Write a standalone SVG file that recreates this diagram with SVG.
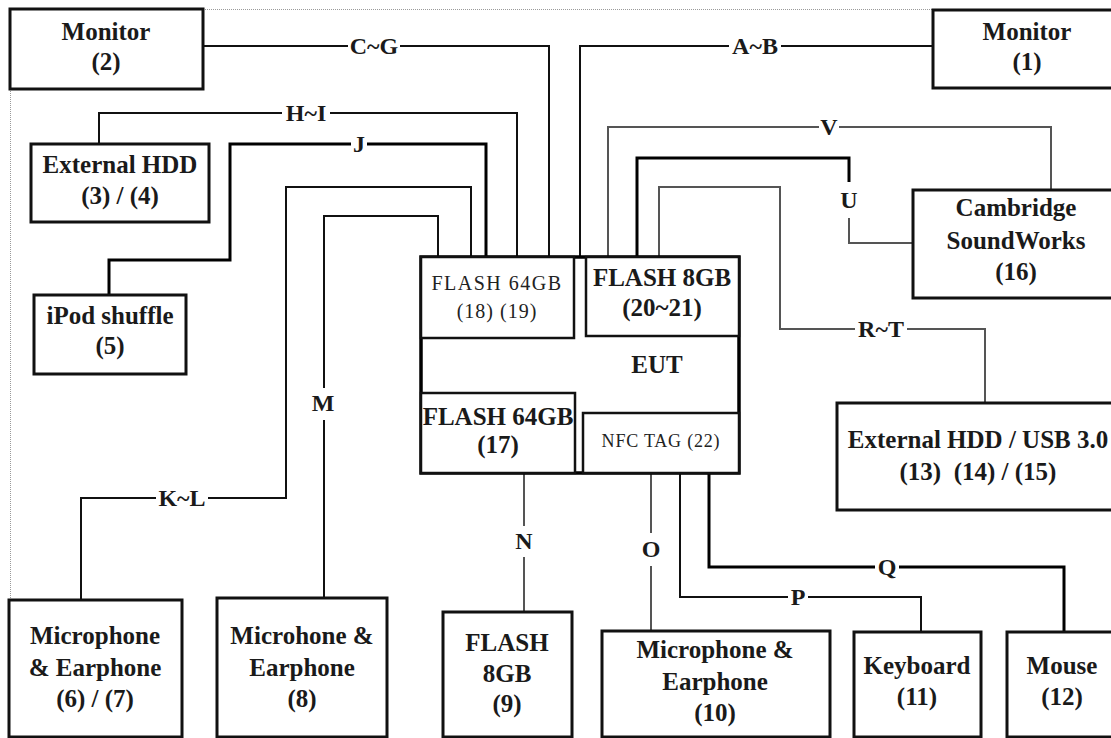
<svg xmlns="http://www.w3.org/2000/svg" width="1111" height="738" viewBox="0 0 1111 738">
<style>
.bx{fill:#fff;stroke:#111;stroke-width:3}
.in{fill:#fff;stroke:#111;stroke-width:2.5}
.t{font-family:"Liberation Serif","Times New Roman",serif;font-weight:bold;font-size:25px;fill:#1a1a1a;text-anchor:middle}
.tr{font-family:"Liberation Serif","Times New Roman",serif;font-weight:normal;fill:#222;text-anchor:middle}
.c{fill:none;stroke:#111;stroke-width:2}
.g{fill:none;stroke:#555;stroke-width:2}
.k{fill:none;stroke:#000;stroke-width:3}
.gap{fill:#fff;stroke:none}
.lb{font-family:"Liberation Serif","Times New Roman",serif;font-weight:bold;font-size:24px;fill:#1a1a1a;text-anchor:middle}
.dot{fill:none;stroke:#9a9a9a;stroke-width:1;stroke-dasharray:1 1}
</style>
<rect width="1111" height="738" fill="#fff"/>
<g id="frame">
<path class="dot" d="M203 9.5H933M10.5 89V600"/>
</g>
<g id="connectors">
<path class="c" d="M203 46H549V257"/>
<path class="c" d="M933 46H580V257"/>
<path class="c" d="M99 144V113H517V257"/>
<path class="k" d="M109 295V260H230V144H486V257"/>
<path class="c" d="M81 600V498H286V187H471V257"/>
<path class="c" d="M324 598V216H438V257"/>
<path class="g" d="M608 257V127H1051V190"/>
<path class="k" d="M637 257V158H849V200"/>
<path class="g" d="M849 200V243H913"/>
<path class="g" d="M659 257V187H780V329H985V403"/>
<path class="g" d="M524 473V612"/>
<path class="g" d="M651 473V631"/>
<path class="c" d="M680 473V597H921V632"/>
<path class="k" d="M709 473V567H1064V632"/>
<rect class="gap" x="348" y="34" width="52" height="24"/>
<rect class="gap" x="729" y="34" width="52" height="24"/>
<rect class="gap" x="282" y="101" width="48" height="24"/>
<rect class="gap" x="351" y="132" width="16" height="24"/>
<rect class="gap" x="819" y="115" width="20" height="24"/>
<rect class="gap" x="839" y="182" width="20" height="36"/>
<rect class="gap" x="855" y="317" width="52" height="24"/>
<rect class="gap" x="156" y="486" width="52" height="24"/>
<rect class="gap" x="311" y="388" width="24" height="32"/>
<rect class="gap" x="514" y="526" width="20" height="31"/>
<rect class="gap" x="641" y="533" width="20" height="33"/>
<rect class="gap" x="788" y="585" width="20" height="24"/>
<rect class="gap" x="875" y="555" width="24" height="24"/>
<text class="lb" x="374" y="54">C~G</text>
<text class="lb" x="755" y="54">A~B</text>
<text class="lb" x="306" y="121">H~I</text>
<text class="lb" x="359" y="152">J</text>
<text class="lb" x="829" y="135">V</text>
<text class="lb" x="849" y="208">U</text>
<text class="lb" x="881" y="337">R~T</text>
<text class="lb" x="182" y="506">K~L</text>
<text class="lb" x="323" y="411">M</text>
<text class="lb" x="524" y="549">N</text>
<text class="lb" x="651" y="557">O</text>
<text class="lb" x="798" y="605">P</text>
<text class="lb" x="887" y="575">Q</text>
</g>
<g id="monitor2">
<rect class="bx" x="10" y="9" width="193" height="80"/>
<text class="t" x="106" y="40">Monitor</text>
<text class="t" x="106" y="70">(2)</text>
</g>
<g id="monitor1">
<rect class="bx" x="933" y="10" width="190" height="78"/>
<text class="t" x="1027" y="40">Monitor</text>
<text class="t" x="1027" y="70">(1)</text>
</g>
<g id="exthdd">
<rect class="bx" x="31" y="144" width="178" height="78"/>
<text class="t" x="120" y="173">External HDD</text>
<text class="t" x="120" y="204">(3) / (4)</text>
</g>
<g id="ipod">
<rect class="bx" x="34" y="295" width="152" height="79"/>
<text class="t" x="110" y="324">iPod shuffle</text>
<text class="t" x="110" y="354">(5)</text>
</g>
<g id="cambridge">
<rect class="bx" x="913" y="190" width="206" height="108"/>
<text class="t" x="1016" y="216">Cambridge</text>
<text class="t" x="1016" y="249">SoundWorks</text>
<text class="t" x="1016" y="280">(16)</text>
</g>
<g id="exthddusb">
<rect class="bx" x="837" y="403" width="285" height="107"/>
<text class="t" x="978" y="448">External HDD / USB 3.0</text>
<text class="t" x="978" y="480" xml:space="preserve">(13)  (14) / (15)</text>
</g>
<g id="eut">
<rect fill="#fff" stroke="#000" stroke-width="3.5" x="421" y="257" width="318" height="216"/>
<rect class="in" x="421" y="257" width="153" height="81"/>
<text class="tr" x="497" y="290" font-size="20" letter-spacing="1.5">FLASH 64GB</text>
<text class="tr" x="497" y="318" font-size="20" letter-spacing="1">(18) (19)</text>
<rect class="in" x="586" y="257" width="153" height="79"/>
<text class="t" x="662" y="286">FLASH 8GB</text>
<text class="t" x="662" y="316" font-weight="normal">(20~21)</text>
<text class="t" x="657" y="373" font-size="28">EUT</text>
<rect class="in" x="421" y="393" width="154" height="80"/>
<text class="t" x="498" y="425" font-size="20">FLASH 64GB</text>
<text class="t" x="498" y="453" font-size="22" font-weight="normal">(17)</text>
<rect class="in" x="583" y="413" width="156" height="60"/>
<text class="tr" x="661" y="447" font-size="18" letter-spacing="0.8">NFC TAG (22)</text>
</g>
<g id="mic67">
<rect class="bx" x="9" y="600" width="173" height="137"/>
<text class="t" x="95" y="644">Microphone</text>
<text class="t" x="95" y="676">&amp; Earphone</text>
<text class="t" x="95" y="707">(6) / (7)</text>
</g>
<g id="mic8">
<rect class="bx" x="217" y="598" width="170" height="139"/>
<text class="t" x="302" y="644">Microhone &amp;</text>
<text class="t" x="302" y="676">Earphone</text>
<text class="t" x="302" y="707">(8)</text>
</g>
<g id="flash9">
<rect class="bx" x="443" y="612" width="129" height="125"/>
<text class="t" x="507" y="651">FLASH</text>
<text class="t" x="507" y="682">8GB</text>
<text class="t" x="507" y="712">(9)</text>
</g>
<g id="mic10">
<rect class="bx" x="602" y="631" width="228" height="106"/>
<text class="t" x="715" y="658">Microphone &amp;</text>
<text class="t" x="715" y="690">Earphone</text>
<text class="t" x="715" y="721">(10)</text>
</g>
<g id="keyboard">
<rect class="bx" x="854" y="632" width="127" height="105"/>
<text class="t" x="917" y="674">Keyboard</text>
<text class="t" x="917" y="705">(11)</text>
</g>
<g id="mouse">
<rect class="bx" x="1007" y="632" width="115" height="105"/>
<text class="t" x="1062" y="674">Mouse</text>
<text class="t" x="1062" y="705">(12)</text>
</g>
</svg>
